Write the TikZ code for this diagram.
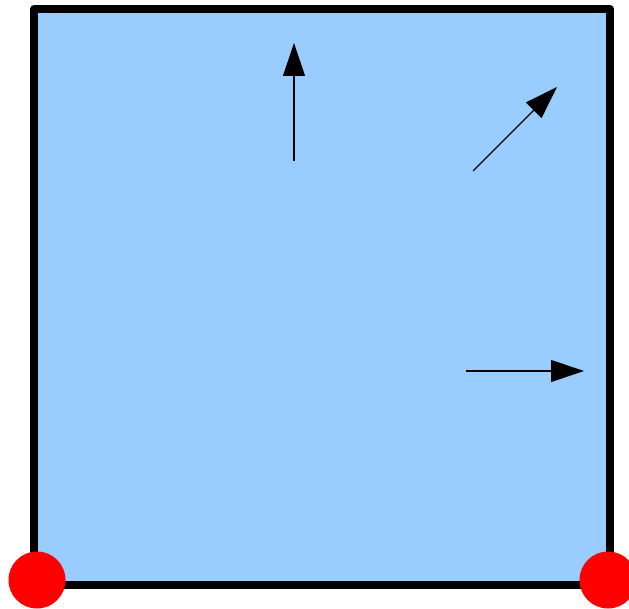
\documentclass[tikz,border=0pt]{standalone}
\usetikzlibrary{arrows.meta}
\definecolor{boxblue}{HTML}{99CCFF}
\definecolor{dotred}{HTML}{FF0000}
\tikzset{
  vec/.style={line width=1.1pt, draw=black, -{Triangle[length=33pt,width=22pt]}},
  frame/.style={fill=boxblue, draw=black, line width=8pt, line join=round},
  corner/.style={circle, fill=dotred, draw=none, minimum size=57pt, inner sep=0pt}
}
\begin{document}
\begin{tikzpicture}[x=1pt,y=-1pt]
  \useasboundingbox (0,0) rectangle (629,609);
  \path[frame] (34,9) rectangle (610,585);
  \coordinate (v1s) at (294,161);
  \coordinate (v1e) at (294,43);
  \coordinate (v2s) at (473,171);
  \coordinate (v2e) at (557,87);
  \coordinate (v3s) at (466,371);
  \coordinate (v3e) at (584,371);
  \draw[vec] (v1s) -- (v1e);
  \draw[vec] (v2s) -- (v2e);
  \draw[vec] (v3s) -- (v3e);
  \node[corner] (cl) at (37,580) {};
  \node[corner] (cr) at (608,580) {};
\end{tikzpicture}
\end{document}
